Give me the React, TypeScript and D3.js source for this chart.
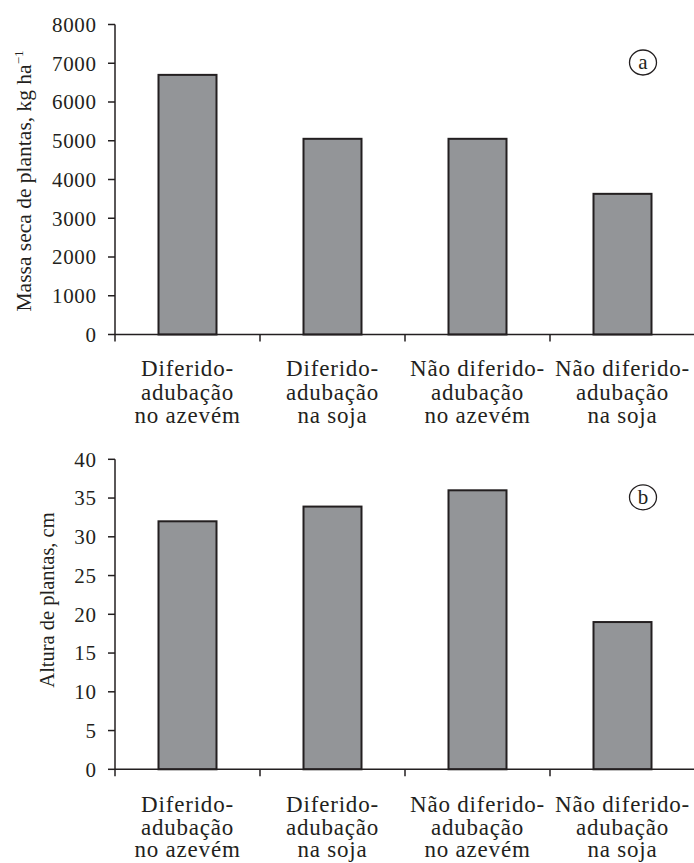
import * as d3 from "d3";

// categories (one array per label line)
const categories = [
  ["Diferido-", "adubação", "no azevém"],
  ["Diferido-", "adubação", "na soja"],
  ["Não diferido-", "adubação", "no azevém"],
  ["Não diferido-", "adubação", "na soja"],
];
const catKeys = categories.map((c) => c.join(" "));

// panel (a): dry mass, kg/ha
const massaSeca = [6700, 5050, 5050, 3630];
const massaTicks = [0, 1000, 2000, 3000, 4000, 5000, 6000, 7000, 8000];

// panel (b): plant height, cm
const altura = [32, 33.9, 36, 19];
const alturaTicks = [0, 5, 10, 15, 20, 25, 30, 35, 40];

const W = 694;
const H = 863;
const FONT = "'Liberation Serif', 'Times New Roman', serif";
const INK = "#231f20";
const BAR = "#939598";

type PanelProps = {
  values: number[];
  ticks: number[];
  max: number;
  top: number;
  bottom: number;
  badge: string;
  title: React.ReactNode;
  titleX: number;
  titleY: number;
  titleSize: number;
  labelOffset: number;
  lineGap: number;
};

function Panel({ values, ticks, max, top, bottom, badge, title, titleX, titleY, titleSize, labelOffset, lineGap }: PanelProps) {
  const x = d3.scaleBand().domain(catKeys).range([115, 695]).paddingInner(0.6).paddingOuter(0.3);
  const y = d3.scaleLinear().domain([0, max]).range([bottom, top]);
  const step = x.step();
  const axisX = 115;

  return (
    <g>
      {/* bars */}
      {values.map((v, i) => (
        <rect
          key={i}
          x={x(catKeys[i])}
          y={y(v)}
          width={x.bandwidth()}
          height={y(0) - y(v)}
          fill={BAR}
          stroke={INK}
          strokeWidth={2}
        />
      ))}

      {/* y axis */}
      <line x1={axisX} x2={axisX} y1={y(max)} y2={y(0)} stroke={INK} strokeWidth={1.5} />
      {ticks.map((t) => (
        <g key={t}>
          <line x1={axisX - 7} x2={axisX} y1={y(t)} y2={y(t)} stroke={INK} strokeWidth={1.5} />
          <text
            x={96.5}
            y={y(t)}
            dy="0.35em"
            textAnchor="end"
            fontSize={21}
            letterSpacing={0.6}
            fontFamily={FONT}
            fill={INK}
          >
            {t}
          </text>
        </g>
      ))}

      {/* x axis */}
      <line x1={axisX} x2={W} y1={y(0)} y2={y(0)} stroke={INK} strokeWidth={1.5} />
      {catKeys.map((k, i) => (
        <line
          key={k}
          x1={axisX + i * step}
          x2={axisX + i * step}
          y1={y(0)}
          y2={y(0) + 7}
          stroke={INK}
          strokeWidth={1.5}
        />
      ))}
      {categories.map((lines, i) => {
        const cx = (x(catKeys[i]) ?? 0) + x.bandwidth() / 2;
        return (
          <text
            key={i}
            x={cx}
            y={y(0) + labelOffset}
            textAnchor="middle"
            fontSize={23}
            letterSpacing={0.8}
            fontFamily={FONT}
            fill={INK}
          >
            {lines.map((l, j) => (
              <tspan key={j} x={cx} dy={j === 0 ? 0 : lineGap}>
                {l}
              </tspan>
            ))}
          </text>
        );
      })}

      {/* y title */}
      <text
        transform={`translate(${titleX},${titleY}) rotate(-90)`}
        textAnchor="middle"
        fontSize={titleSize}
        fontFamily={FONT}
        fill={INK}
      >
        {title}
      </text>

      {/* panel badge */}
      <ellipse cx={643} cy={top + 38} rx={13.5} ry={12.5} fill="none" stroke={INK} strokeWidth={1.3} />
      <text x={643} y={top + 38} dy="0.33em" textAnchor="middle" fontSize={21} fontFamily={FONT} fill={INK}>
        {badge}
      </text>
    </g>
  );
}

export default function App() {
  return (
    <svg width={W} height={H} style={{ position: "absolute", left: 0, top: 0, background: "#fff" }}>
      <Panel
        values={massaSeca}
        ticks={massaTicks}
        max={8000}
        top={24.5}
        bottom={334.5}
        badge="a"
        title={
          <>
            Massa seca de plantas, kg ha
            <tspan dy={-8} fontSize={13}>−1</tspan>
          </>
        }
        titleX={31}
        titleY={181}
        titleSize={21.5}
        labelOffset={41.5}
        lineGap={23.5}
      />
      <Panel
        values={altura}
        ticks={alturaTicks}
        max={40}
        top={459.3}
        bottom={769.3}
        badge="b"
        title="Altura de plantas, cm"
        titleX={54}
        titleY={600}
        titleSize={20.5}
        labelOffset={43}
        lineGap={22.5}
      />
    </svg>
  );
}
